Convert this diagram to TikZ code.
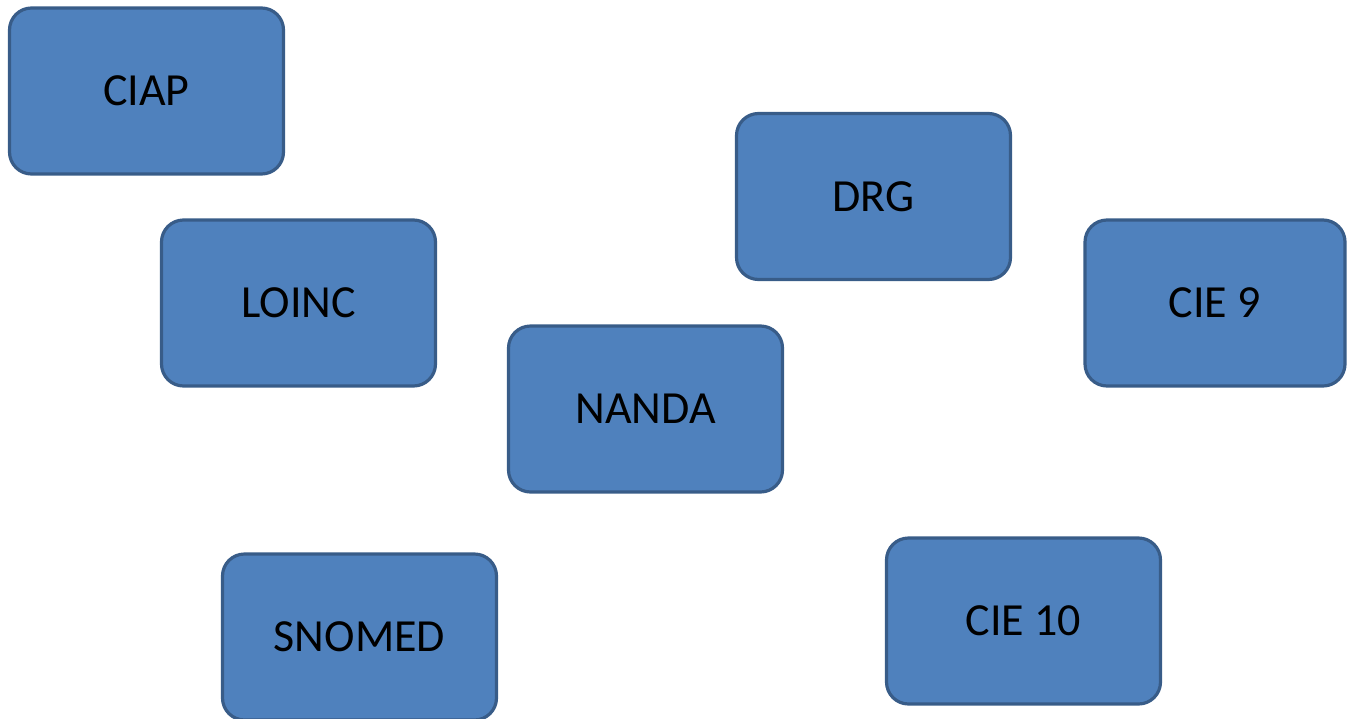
\documentclass[tikz,border=0pt]{standalone}
\usepackage{fontspec}
\setmainfont{Carlito}
\begin{document}
\begin{tikzpicture}[x=1pt,y=-1pt,
  termbox/.style={draw=boxline, fill=boxfill, line width=3.2pt, rounded corners=22pt,
    minimum width=274pt, minimum height=166pt, inner sep=0pt, outer sep=0pt,
    font=\fontsize{46}{52}\selectfont, text=black}]
\definecolor{boxfill}{HTML}{4F81BD}
\definecolor{boxline}{HTML}{385C88}
\useasboundingbox (0,0) rectangle (1348,718);
\node[termbox] (ciap) at (146.5,91) {CIAP};
\node[termbox] (loinc) at (298.5,303) {LOINC};
\node[termbox] (nanda) at (645.5,409) {NANDA};
\node[termbox] (drg) at (873.5,196.5) {DRG};
\node[termbox, minimum width=260pt] (cie9) at (1215,303) {CIE 9};
\node[termbox] (snomed) at (359.5,637) {SNOMED};
\node[termbox] (cie10) at (1023.5,621) {CIE 10};
\end{tikzpicture}
\end{document}
